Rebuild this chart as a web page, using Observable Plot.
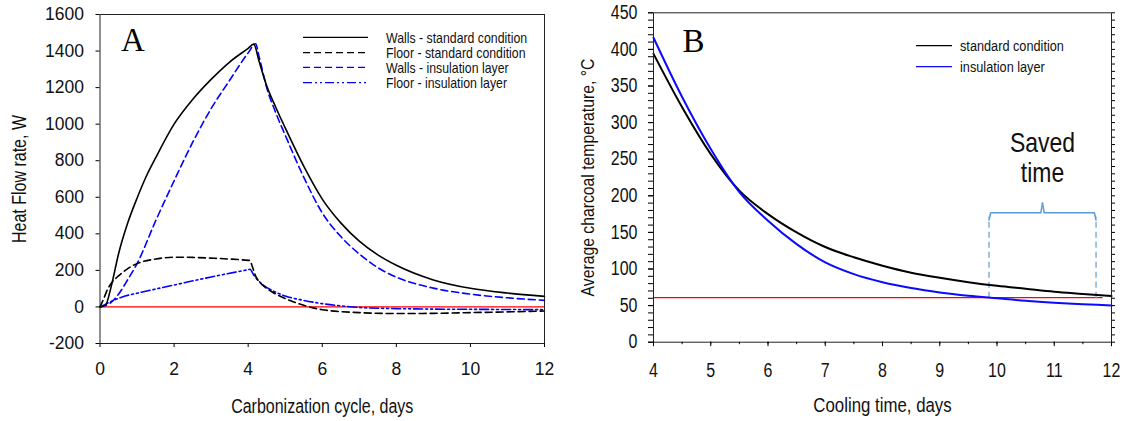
<!DOCTYPE html>
<html>
<head>
<meta charset="utf-8">
<script src="https://cdn.jsdelivr.net/npm/d3@7"></script>
<script src="https://cdn.jsdelivr.net/npm/@observablehq/plot@0.6"></script>
<style>
  html, body { margin: 0; padding: 0; background: #fff; }
  #wrap { position: relative; width: 1125px; height: 421px; display: flex; }
  #overlay { position: absolute; left: 0; top: 0; pointer-events: none; }
  svg { overflow: visible; }
</style>
</head>
<body>
<div id="wrap"></div>
<script>
// ---------- Panel A data ----------
const wallsStdDays = [0, 0.15, 0.3, 0.5, 0.75, 1, 1.25, 1.5, 2, 2.5, 3, 3.5, 4, 4.15, 4.3, 4.5, 4.75, 5, 5.5, 6, 6.5, 7, 7.5, 8, 9, 10, 11, 12];
const wallsStd     = [0, 10, 110, 290, 460, 595, 715, 815, 1000, 1135, 1245, 1340, 1415, 1438, 1340, 1210, 1090, 980, 770, 590, 460, 360, 285, 228, 148, 102, 76, 58];

const floorStdDays = [0, 0.1, 0.2, 0.3, 0.5, 0.75, 1, 1.5, 2, 2.5, 3, 3.5, 4, 4.05, 4.1, 4.2, 4.4, 4.65, 5, 5.5, 6, 7, 8, 9, 10, 11, 12];
const floorStd     = [0, 45, 95, 128, 170, 210, 237, 262, 272, 271, 267, 262, 255, 254, 228, 170, 118, 82, 46, 9, -15, -31, -36, -35, -31, -27, -22];

const wallsInsDays = [0, 0.15, 0.3, 0.5, 0.75, 1, 1.5, 2, 2.5, 3, 3.5, 4, 4.2, 4.3, 4.5, 4.75, 5, 5.5, 6, 6.5, 7, 7.5, 8, 9, 10, 11, 12];
const wallsIns     = [0, 8, 25, 70, 150, 237, 470, 690, 900, 1085, 1240, 1390, 1440, 1365, 1200, 1060, 940, 710, 515, 385, 290, 215, 163, 103, 70, 50, 36];

const floorInsDays = [0, 0.3, 0.6, 1, 2, 3, 4, 4.05, 4.15, 4.4, 4.65, 5, 5.5, 6, 6.5, 7, 8, 9, 10, 11, 12];
const floorIns     = [0, 30, 55, 75, 120, 164, 204, 206, 175, 120, 90, 60, 36, 18, 6, -3, -9, -12, -13, -14, -15];

const xTicksA = [0, 2, 4, 6, 8, 10, 12];
const yTicksA = [-200, 0, 200, 400, 600, 800, 1000, 1200, 1400, 1600];
const legendA = ["Walls - standard condition", "Floor - standard condition", "Walls - insulation layer", "Floor - insulation layer"];

// ---------- Panel B data ----------
const coolDays   = [4, 4.5, 5, 5.5, 6, 6.5, 7, 7.5, 8, 8.5, 9, 9.5, 10, 10.5, 11, 11.5, 12];
const tempStd    = [394, 321, 257, 207, 175, 150, 130, 116, 104.5, 95, 88, 82, 77, 73, 69, 66, 63];
const tempIns    = [416, 335, 264, 205, 166, 134, 109, 93, 82, 74, 68, 63.5, 60, 56.6, 54, 52, 50];
const threshold  = [61];
const thresholdSpan = [4, 11.85];
const savedTime  = [9.86, 11.73];
const xTicksB = [4, 5, 6, 7, 8, 9, 10, 11, 12];
const yTicksB = [0, 50, 100, 150, 200, 250, 300, 350, 400, 450];
const legendB = ["standard condition", "insulation layer"];

const NARROW = "'Liberation Sans Narrow', 'Arial Narrow', 'Liberation Sans', Arial, sans-serif";
const SANS = "'Liberation Sans', Arial, sans-serif";
const SERIF = "'Liberation Serif', 'Times New Roman', serif";
const fmt = d => String(d);

const zip = (xs, ys) => xs.map((x, i) => ({x, y: ys[i]}));

// ---------- Panel A ----------
const plotA = Plot.plot({
  width: 560, height: 421,
  marginLeft: 99.5, marginRight: 16, marginTop: 14, marginBottom: 78,
  style: {fontFamily: SANS, background: "white", overflow: "visible"},
  x: {domain: [0, 12]},
  y: {domain: [-200, 1600]},
  marks: [
    Plot.ruleY([0], {stroke: "red", strokeWidth: 1.2}),
    Plot.line(zip(floorInsDays, floorIns), {x: "x", y: "y", stroke: "blue", strokeWidth: 1.6, strokeDasharray: "9,3,2,3,2,3", curve: "monotone-x"}),
    Plot.line(zip(wallsInsDays, wallsIns), {x: "x", y: "y", stroke: "blue", strokeWidth: 1.6, strokeDasharray: "7,4", curve: "monotone-x"}),
    Plot.line(zip(floorStdDays, floorStd), {x: "x", y: "y", stroke: "black", strokeWidth: 1.6, strokeDasharray: "7,4", curve: "monotone-x"}),
    Plot.line(zip(wallsStdDays, wallsStd), {x: "x", y: "y", stroke: "black", strokeWidth: 1.6, curve: "monotone-x"}),
    Plot.frame({stroke: "#222", strokeWidth: 1}),
    Plot.axisX({ticks: xTicksA, tickFormat: fmt, tickSize: 4, tickPadding: 15, fontSize: 17.5, fontFamily: SANS, label: null, fill: "#111"}),
    Plot.axisY({ticks: yTicksA, tickFormat: fmt, tickSize: 4, tickPadding: 12, fontSize: 17.5, fontFamily: SANS, label: null, fill: "#111"}),
    Plot.text(["A"], {frameAnchor: "top-left", dx: 21, dy: 36, textAnchor: "start", lineAnchor: "bottom", fontFamily: SERIF, fontSize: 33, fill: "black"}),
    Plot.text(["Carbonization cycle, days"], {frameAnchor: "bottom", dy: 69, textAnchor: "middle", lineAnchor: "bottom", fontFamily: NARROW, fontSize: 19.5, fill: "#111"}),
    Plot.text(["Heat Flow rate, W"], {frameAnchor: "left", dx: -74.5, rotate: -90, textAnchor: "middle", lineAnchor: "bottom", fontFamily: NARROW, fontSize: 19.5, fill: "#111"})
  ]
});

// ---------- Panel B ----------
const minorY = d3.range(0, 451, 10);
const minorX = d3.range(4, 12.01, 0.5);
const midSaved = (savedTime[0] + savedTime[1]) / 2;
const bracketL = [
  {x: savedTime[0], y: 167},
  {x: savedTime[0] + 0.03, y: 176.8},
  {x: midSaved - 0.03, y: 176.8},
  {x: midSaved, y: 190}
];
const bracketR = [
  {x: midSaved, y: 190},
  {x: midSaved + 0.03, y: 176.8},
  {x: savedTime[1] - 0.03, y: 176.8},
  {x: savedTime[1], y: 167}
];

const plotB = Plot.plot({
  width: 565, height: 421,
  marginLeft: 93, marginRight: 14, marginTop: 12.3, marginBottom: 79.3,
  style: {fontFamily: SANS, background: "white", overflow: "visible"},
  x: {domain: [4, 12]},
  y: {domain: [0, 450]},
  marks: [
    Plot.ruleY(threshold, {x1: thresholdSpan[0], x2: thresholdSpan[1], stroke: "red", strokeWidth: 1.2}),
    Plot.ruleX(savedTime, {y1: threshold[0] - 1, y2: 171, stroke: "#7fb0e0", strokeWidth: 1.5, strokeDasharray: "6,4"}),
    Plot.line(bracketL, {x: "x", y: "y", stroke: "#5b9bd5", strokeWidth: 1.5}),
    Plot.line(bracketR, {x: "x", y: "y", stroke: "#5b9bd5", strokeWidth: 1.5}),
    Plot.line(zip(coolDays, tempStd), {x: "x", y: "y", stroke: "black", strokeWidth: 2, curve: "monotone-x"}),
    Plot.line(zip(coolDays, tempIns), {x: "x", y: "y", stroke: "#0a0aff", strokeWidth: 2, curve: "monotone-x"}),
    Plot.frame({stroke: "#222", strokeWidth: 1}),
    Plot.axisX({ticks: minorX, tickSize: 2.5, text: null, label: null}),
    Plot.axisY({ticks: minorY, tickSize: 5, text: null, label: null}),
    Plot.axisY({anchor: "right", ticks: minorY, tickSize: 3, text: null, label: null}),
    Plot.axisX({ticks: xTicksB, tickFormat: fmt, tickSize: 4.5, tickPadding: 16, fontSize: 19.5, fontFamily: NARROW, label: null, fill: "#111"}),
    Plot.axisY({ticks: yTicksB, tickFormat: fmt, tickSize: 5, tickPadding: 11, fontSize: 19.5, fontFamily: NARROW, label: null, fill: "#111"}),
    Plot.text(["B"], {frameAnchor: "top-left", dx: 29, dy: 39, textAnchor: "start", lineAnchor: "bottom", fontFamily: SERIF, fontSize: 33, fill: "black"}),
    Plot.text(["Saved"], {x: [midSaved], y: [260], textAnchor: "middle", lineAnchor: "bottom", fontFamily: NARROW, fontSize: 28, fill: "#111"}),
    Plot.text(["time"], {x: [midSaved], y: [219], textAnchor: "middle", lineAnchor: "bottom", fontFamily: NARROW, fontSize: 28, fill: "#111"}),
    Plot.text(["Cooling time, days"], {frameAnchor: "bottom", dy: 70, textAnchor: "middle", lineAnchor: "bottom", fontFamily: NARROW, fontSize: 20.5, fill: "#111"}),
    Plot.text(["Average charcoal temperature, °C"], {frameAnchor: "left", dx: -60, rotate: -90, textAnchor: "middle", lineAnchor: "bottom", fontFamily: NARROW, fontSize: 19.2, fill: "#111"})
  ]
});

const wrap = document.getElementById("wrap");
wrap.appendChild(plotA);
wrap.appendChild(plotB);

// ---------- Legends (overlay) ----------
const ov = d3.select(wrap).append("svg").attr("id", "overlay").attr("width", 1125).attr("height", 421);
const stylesA = [
  {stroke: "black", dash: null},
  {stroke: "black", dash: "7,4"},
  {stroke: "blue", dash: "7,4"},
  {stroke: "blue", dash: "9,3,2,3,2,3"}
];
const rowsA = [37.3, 52.7, 67.3, 82.7];
legendA.forEach((t, i) => {
  ov.append("line").attr("x1", 303).attr("x2", 368).attr("y1", rowsA[i]).attr("y2", rowsA[i])
    .attr("stroke", stylesA[i].stroke).attr("stroke-width", 1.3).attr("stroke-dasharray", stylesA[i].dash);
  ov.append("text").attr("x", 386).attr("y", rowsA[i]).attr("dy", "0.35em")
    .attr("font-family", NARROW).attr("font-size", 15).attr("fill", "#111").text(t);
});
const colorsB = ["black", "#0a0aff"];
const rowsB = [45.7, 66.7];
legendB.forEach((t, i) => {
  ov.append("line").attr("x1", 916).attr("x2", 952).attr("y1", rowsB[i]).attr("y2", rowsB[i])
    .attr("stroke", colorsB[i]).attr("stroke-width", 1.3);
  ov.append("text").attr("x", 960).attr("y", rowsB[i]).attr("dy", "0.35em")
    .attr("font-family", NARROW).attr("font-size", 15.5).attr("fill", "#111").text(t);
});

// Condense texts that ask for a narrow face (no narrow font is installed)
document.querySelectorAll("text").forEach(el => {
  const ff = getComputedStyle(el).fontFamily || "";
  if (ff.includes("Narrow")) {
    const len = el.getComputedTextLength();
    if (len > 0) {
      el.setAttribute("textLength", (len * 0.82).toFixed(2));
      el.setAttribute("lengthAdjust", "spacingAndGlyphs");
    }
  }
});
</script>
</body>
</html>
